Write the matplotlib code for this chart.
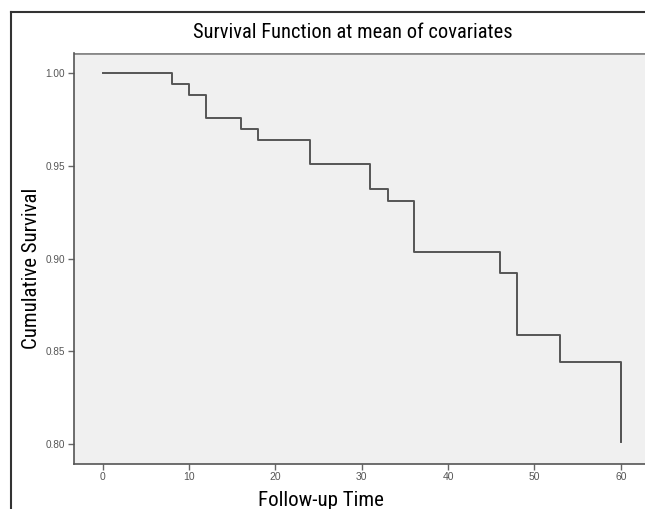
import matplotlib
matplotlib.use("Agg")
import matplotlib.pyplot as plt
from matplotlib import font_manager

# survival steps
times    = [0, 8, 10, 12, 16, 18, 24, 31, 33, 36, 46, 48, 53, 60]
survival = [1.000, 0.994, 0.9885, 0.976, 0.970, 0.964, 0.951, 0.9375,
            0.931, 0.9035, 0.8925, 0.859, 0.8445, 0.801]
xticks = [0, 10, 20, 30, 40, 50, 60]
yticks = [0.80, 0.85, 0.90, 0.95, 1.00]

names = {f.name for f in font_manager.fontManager.ttflist}
cond = None
for n in ["Liberation Sans Narrow", "DejaVu Sans Condensed", "Roboto Condensed"]:
    if n in names:
        cond = n
        break
lbl_font = dict(family=cond or "DejaVu Sans", stretch="condensed")

fig = plt.figure(figsize=(6.45, 5.09), dpi=100)
W, H = 645, 509

# outer frame (cut off at right and bottom)
fig.add_artist(plt.Line2D([11/W, 11/W], [0, 1 - 12/H], color="#333333", lw=1.5))
fig.add_artist(plt.Line2D([11/W, 1], [1 - 12/H, 1 - 12/H], color="#333333", lw=1.5))

ax = fig.add_axes([73.7/W, 1 - 463.7/H, (645 - 73.7)/W, (463.7 - 53.3)/H])
ax.set_facecolor("#f0f0f0")
ax.step(times, survival, where="post", color="#555555", lw=1.4)
ax.vlines(times[-1], survival[-1], survival[-2], color="#555555", lw=1.4)

ax.set_xlim(-3.37, 62.8)
ax.set_ylim(0.7894, 1.0108)
ax.set_xticks(xticks)
ax.set_xticklabels([str(t) for t in xticks], fontsize=7.5, color="#555555",
                   family="Liberation Sans")
ax.set_yticks(yticks)
ax.set_yticklabels([f"{t:.2f}" for t in yticks], fontsize=7.2, color="#555555",
                   family="Liberation Sans")
ax.tick_params(direction="out", length=4, width=1, color="#666666", pad=2)
for s in ["top", "right"]:
    ax.spines[s].set_visible(False)
for s in ["left", "bottom"]:
    ax.spines[s].set_color("#555555")
    ax.spines[s].set_linewidth(1.2)
ax.axhline(1.0108, color="#888888", lw=2)

fig.text(353/W, 1 - 32/H, "Survival Function at mean of covariates",
         ha="center", va="center", fontsize=14.8, **lbl_font)
fig.text(32/W, 1 - 268/H, "Cumulative Survival", rotation=90,
         ha="center", va="center", fontsize=15, **lbl_font)
fig.text(321/W, 1 - 500/H, "Follow-up Time",
         ha="center", va="center", fontsize=15, **lbl_font)

fig.savefig("out.png", dpi=100)
